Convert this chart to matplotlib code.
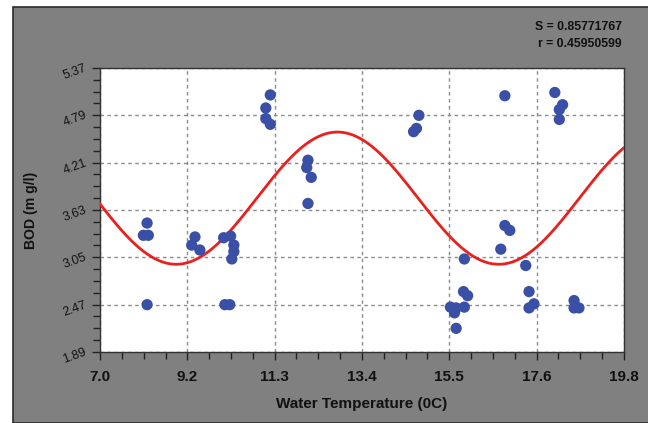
import numpy as np
import matplotlib.pyplot as plt
from matplotlib.patches import Rectangle
from matplotlib.ticker import AutoMinorLocator
from matplotlib import font_manager

# water temperature (C) vs BOD (mg/l)
temp = [8.15, 8.06, 8.18, 8.15,
        9.32, 9.24, 9.44,
        10.02, 10.19, 10.27, 10.27, 10.22,
        10.05, 10.17,
        11.16, 11.05, 11.05, 11.16,
        12.08, 12.05, 12.16, 12.08,
        14.79, 14.73, 14.66,
        16.89, 16.89, 17.01, 16.79, 17.40,
        15.90, 15.88, 15.98,
        15.56, 15.70, 15.90, 15.66, 15.70,
        17.48, 17.60, 17.48,
        18.58, 18.70, 18.58,
        18.11, 18.30, 18.22, 18.22]
bod = [3.47, 3.32, 3.32, 2.47,
       3.30, 3.20, 3.14,
       3.29, 3.31, 3.20, 3.12, 3.03,
       2.47, 2.47,
       5.04, 4.88, 4.75, 4.68,
       4.24, 4.15, 4.03, 3.71,
       4.79, 4.63, 4.59,
       5.03, 3.44, 3.38, 3.15, 2.95,
       3.03, 2.63, 2.58,
       2.44, 2.43, 2.44, 2.37, 2.18,
       2.63, 2.48, 2.43,
       2.52, 2.43, 2.43,
       5.07, 4.92, 4.86, 4.74]

# sinusoidal fit y = a + b*cos(2*pi*(x - d)/c)
fit_a, fit_b, fit_c, fit_d = 3.775, 0.81, 7.88, 12.8
fit_s = "S = 0.85771767"
fit_r = "r = 0.45950599"

x_ticks = np.linspace(7.0, 19.8, 7)
x_labels = ['7.0', '9.2', '11.3', '13.4', '15.5', '17.6', '19.8']
y_ticks = [1.89, 2.47, 3.05, 3.63, 4.21, 4.79, 5.37]

names = {f.name for f in font_manager.fontManager.ttflist}
fam = ['Liberation Sans Narrow'] if 'Liberation Sans Narrow' in names else ['Liberation Sans']
fam = fam + ['DejaVu Sans']
narrow = fam[0] == 'Liberation Sans Narrow'
k = 1.0 if narrow else 0.88
txt = '#111111'

fig = plt.figure(figsize=(6.48, 4.23), dpi=100)
fig.patch.set_facecolor('white')
bg = Rectangle((13 / 648, 0), 1, 1 - 7 / 423, transform=fig.transFigure,
               facecolor='#808080', edgecolor='#2a2a2a', lw=1.2, zorder=-10)
fig.add_artist(bg)

ax = fig.add_axes([100 / 648, 1 - 352 / 423, 524 / 648, 284 / 423])
ax.set_zorder(5)
ax.set_facecolor('white')

xs = np.linspace(7.0, 19.8, 400)
ax.plot(xs, fit_a + fit_b * np.cos(2 * np.pi * (xs - fit_d) / fit_c),
        color='#e8201e', lw=2, zorder=3)
ax.scatter(temp, bod, s=66, color='#3a50a6', edgecolors='none', zorder=4)

ax.set_xlim(7.0, 19.8)
ax.set_ylim(1.89, 5.37)
ax.set_xticks(x_ticks)
ax.set_xticklabels(x_labels, fontsize=12.5 * k, fontweight='bold', family=fam, color=txt)
ax.set_yticks(y_ticks)
ax.set_yticklabels([f'{v:.2f}' for v in y_ticks], fontsize=9, family=fam, color=txt,
                   rotation=20, rotation_mode='anchor', ha='right', va='center')
ax.xaxis.set_minor_locator(AutoMinorLocator(4))
ax.yaxis.set_minor_locator(AutoMinorLocator(4))
ax.tick_params(which='both', direction='out', color='#222222', width=1)
ax.tick_params(which='major', length=6)
ax.tick_params(which='minor', length=5)
ax.tick_params(axis='x', pad=7)
ax.tick_params(axis='y', pad=4)
ax.grid(True, which='major', color='#8a8a8a', linestyle=(0, (2.5, 2.5)), lw=1)
for sp in ax.spines.values():
    sp.set_color('#333333')
    sp.set_linewidth(1)

ax.set_xlabel('Water Temperature (0C)', fontsize=12.5 * k, fontweight='bold', family=fam,
              color=txt, labelpad=9)
ax.set_ylabel('BOD (m g/l)', fontsize=11.5 * k, fontweight='bold', family=fam,
              color=txt, labelpad=17)

fig.text(622 / 648, 1 - 27 / 423, fit_s, ha='right', va='center', fontsize=10 * k,
         fontweight='bold', family=fam, color=txt)
fig.text(622 / 648, 1 - 44 / 423, fit_r, ha='right', va='center', fontsize=10 * k,
         fontweight='bold', family=fam, color=txt)

fig.savefig('out.png', dpi=100, facecolor=fig.get_facecolor())
